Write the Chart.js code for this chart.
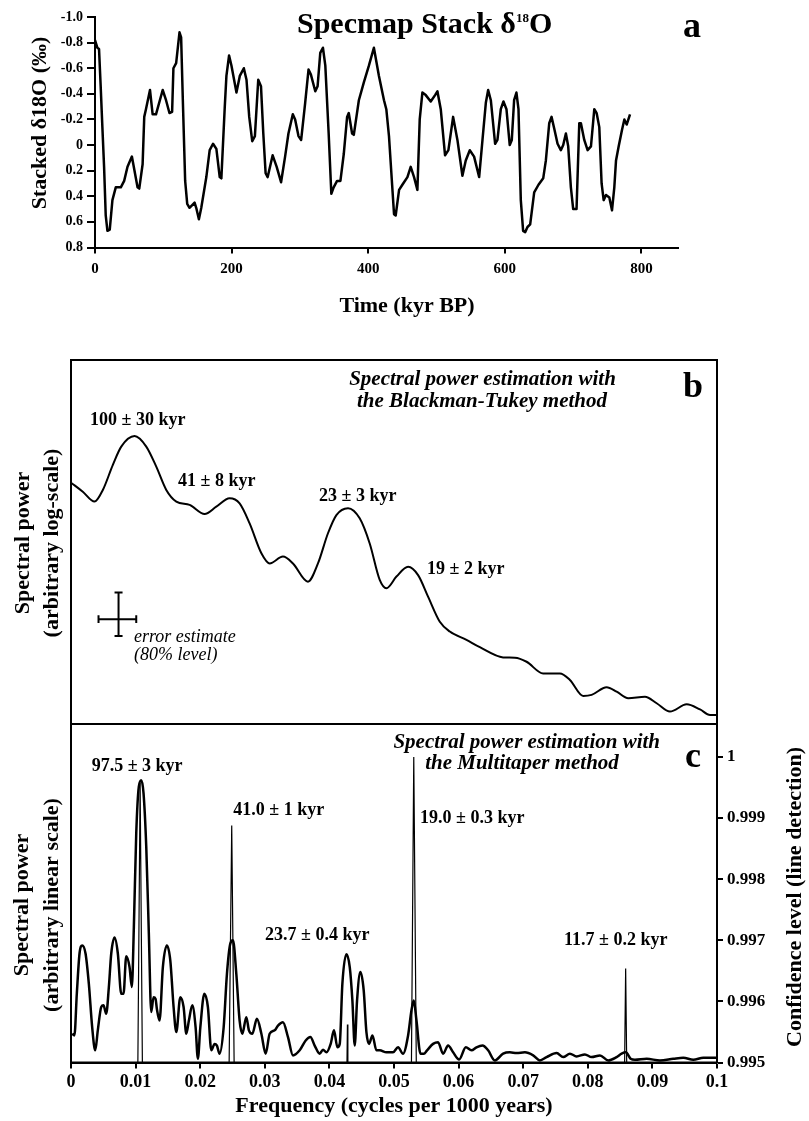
<!DOCTYPE html>
<html>
<head>
<meta charset="utf-8">
<script src="https://cdn.jsdelivr.net/npm/chart.js@4.4.1/dist/chart.umd.min.js"></script>
<style>
  html, body { margin: 0; padding: 0; background: #fff; }
  #wrap { position: relative; width: 809px; height: 1121px; background: #fff; overflow: hidden; }
  canvas { position: absolute; left: 0; top: 0; }
</style>
</head>
<body>
<div id="wrap">
  <canvas id="ca" width="809" height="1121"></canvas>
  <canvas id="cb" width="809" height="1121"></canvas>
  <canvas id="cc" width="809" height="1121"></canvas>
</div>
<script>
// ---------------- DATA ----------------
// Panel a: SPECMAP stacked d18O
const timeKyr = [0, 3.4, 5.9, 8.3, 10.8, 13.3, 15.7, 18.2, 21.6, 25.5,
  30.4, 37.8, 42.7, 47.6, 54.0, 62.3, 64.8, 69.7, 72.1, 74.6,
  80.5, 84.4, 89.3, 99.1, 104, 109, 112.9, 114.8, 118.8, 123.7,
  126.1, 128.6, 132, 135, 138.4, 145.8, 148.2, 152.1, 155.6, 163,
  167.9, 172.8, 177.7, 182.6, 185, 190, 192.4, 196.3, 199.8, 207.1,
  212, 217.9, 221.8, 225.8, 230.2, 234.1, 239, 243, 246.4, 249.8,
  252.8, 260.1, 266, 272.4, 278.3, 283.2, 289.6, 293, 297.9, 301.8,
  307.7, 312.6, 316.1, 322.5, 325.9, 329.8, 333.7, 337.2, 342.1, 346,
  349.4, 354.4, 359.3, 364.2, 369.1, 371.5, 376.4, 378.9, 386.3, 393.6,
  401, 408.3, 415.7, 423.1, 426.5, 430.4, 433.9, 437.8, 440.2, 445.2,
  450, 457.4, 462.2, 467.1, 472, 475.4, 479.3, 484.2, 491.5, 497.9,
  501.3, 506.2, 512.5, 517.4, 524.3, 530.6, 537.9, 542.8, 548.7, 555,
  562.4, 567.3, 572.2, 575.6, 579.5, 585.8, 589.2, 594.1, 598, 602.4,
  607.2, 610.2, 613.6, 617, 620, 623.4, 626.8, 629.8, 633.2, 637.1,
  643, 649.3, 656.2, 660.1, 665, 668.4, 672.3, 677.2, 682, 685.5,
  689.4, 692.8, 696.7, 700.1, 705, 709, 711.4, 716.3, 721.2, 726.1,
  731, 734.4, 738.3, 741.7, 744.7, 748.1, 753, 756.9, 760.3, 762.8,
  766.7, 771.6, 775, 778.4, 783.3];
const d18O = [-0.82, -0.76, -0.75, -0.46, -0.14, 0.17, 0.55, 0.67, 0.66, 0.43,
  0.33, 0.33, 0.28, 0.17, 0.09, 0.33, 0.34, 0.15, -0.22, -0.28,
  -0.43, -0.24, -0.24, -0.43, -0.35, -0.25, -0.26, -0.60, -0.64, -0.88,
  -0.84, -0.35, 0.28, 0.46, 0.49, 0.45, 0.49, 0.58, 0.49, 0.25,
  0.04, -0.01, 0.03, 0.25, 0.26, -0.30, -0.54, -0.70, -0.62, -0.41,
  -0.54, -0.60, -0.51, -0.22, -0.03, -0.07, -0.51, -0.46, -0.09, 0.22,
  0.25, 0.08, 0.17, 0.29, 0.09, -0.09, -0.24, -0.20, -0.07, -0.04,
  -0.33, -0.59, -0.55, -0.42, -0.46, -0.72, -0.76, -0.62, -0.09, 0.38,
  0.33, 0.28, 0.28, 0.07, -0.22, -0.25, -0.09, -0.08, -0.35, -0.49,
  -0.62, -0.76, -0.54, -0.35, -0.28, -0.07, 0.22, 0.54, 0.55, 0.35,
  0.31, 0.25, 0.17, 0.25, 0.35, -0.20, -0.41, -0.39, -0.34, -0.39,
  -0.42, -0.28, 0.08, 0.04, -0.22, -0.04, 0.24, 0.12, 0.04, 0.09,
  0.25, -0.04, -0.33, -0.43, -0.35, -0.01, -0.04, -0.28, -0.34, -0.28,
  0.00, -0.04, -0.35, -0.41, -0.28, 0.43, 0.67, 0.68, 0.64, 0.62,
  0.37, 0.31, 0.26, 0.12, -0.17, -0.22, -0.13, -0.01, 0.04, 0.00,
  -0.09, 0.01, 0.33, 0.50, 0.50, -0.17, -0.17, -0.04, 0.04, 0.01,
  -0.28, -0.25, -0.14, 0.30, 0.43, 0.39, 0.41, 0.51, 0.33, 0.12,
  0.01, -0.12, -0.20, -0.16, -0.24];
const aXTicks = [0, 200, 400, 600, 800];
const aXTickLabels = ["0", "200", "400", "600", "800"];
const aYTicks = [-1.0, -0.8, -0.6, -0.4, -0.2, 0, 0.2, 0.4, 0.6, 0.8];
const aYTickLabels = ["-1.0", "-0.8", "-0.6", "-0.4", "-0.2", "0", "0.2", "0.4", "0.6", "0.8"];

// Panel b: Blackman-Tukey spectrum (arbitrary log units)
const btFreq = [0, 0.00183, 0.00364, 0.00493, 0.00648, 0.00778, 0.00984, 0.01165, 0.0132, 0.01475,
  0.0163, 0.01836, 0.02068, 0.02249, 0.02455, 0.0261, 0.02765, 0.02947, 0.03075, 0.03281,
  0.03436, 0.03668, 0.03823, 0.03978, 0.04108, 0.04288, 0.04469, 0.04624, 0.04779, 0.04883,
  0.05038, 0.05218, 0.05373, 0.05527, 0.05709, 0.05864, 0.06122, 0.06329, 0.06689, 0.06871,
  0.07052, 0.07309, 0.07568, 0.07723, 0.07929, 0.08059, 0.08291, 0.08446, 0.08626, 0.08885,
  0.09066, 0.09272, 0.09531, 0.09737, 0.09892, 0.1];
const btPower = [66.3, 63.8, 61.1, 64.3, 71.2, 76.2, 79.1, 76.2, 70.7, 64.3,
  61.1, 60.2, 57.7, 59.7, 62.0, 60.6, 55.1, 46.9, 44.1, 46.0,
  44.1, 39.1, 44.1, 52.4, 57.4, 59.3, 56.5, 49.6, 39.6, 37.3,
  40.5, 43.2, 40.9, 35.0, 28.1, 25.4, 23.1, 21.1, 18.3, 18.2,
  17.1, 13.9, 13.9, 12.1, 7.7, 8.0, 10.1, 8.9, 7.1, 7.5,
  5.7, 3.4, 5.4, 4.0, 2.5, 2.5];
// error estimate cross (80% level), null = pen up
const errFreq  = [0.00736, 0.00736, null, 0.00674, 0.00798, null, 0.00674, 0.00798, null,
  0.00426, 0.0101, null, 0.00426, 0.00426, null, 0.0101, 0.0101];
const errPower = [36.1, 24.2, null, 36.1, 36.1, null, 24.2, 24.2, null,
  28.8, 28.8, null, 29.85, 27.75, null, 29.85, 27.75];

// Panel c: Multitaper spectrum (arbitrary linear units) and F-test confidence
const mtmFreq = [0.00019, 0.00053, 0.0009, 0.00132, 0.00174, 0.00225, 0.00276, 0.00328, 0.00375, 0.00415,
  0.00468, 0.00503, 0.00545, 0.00586, 0.00623, 0.00674, 0.00725, 0.00778, 0.00813, 0.00855,
  0.00906, 0.00942, 0.00973, 0.0101, 0.0105, 0.01088, 0.01123, 0.01165, 0.01205, 0.01242,
  0.01278, 0.01309, 0.01329, 0.01371, 0.01422, 0.01484, 0.01537, 0.01588, 0.0163, 0.01692,
  0.01743, 0.01785, 0.01825, 0.01878, 0.01929, 0.01964, 0.02002, 0.02064, 0.02119, 0.02172,
  0.02223, 0.02259, 0.023, 0.02363, 0.02414, 0.02466, 0.02507, 0.02559, 0.0261, 0.02652,
  0.02714, 0.02754, 0.02807, 0.02878, 0.02947, 0.03013, 0.03075, 0.03153, 0.03204, 0.03281,
  0.03359, 0.03436, 0.0354, 0.03633, 0.03706, 0.03772, 0.0385, 0.03901, 0.03954, 0.0402,
  0.04071, 0.04124, 0.0416, 0.04201, 0.04263, 0.04315, 0.04356, 0.04392, 0.04428, 0.0448,
  0.04531, 0.04573, 0.04614, 0.04666, 0.04728, 0.04779, 0.04883, 0.04985, 0.05063, 0.0514,
  0.05218, 0.0527, 0.05306, 0.05348, 0.0541, 0.05461, 0.05512, 0.05605, 0.05682, 0.0576,
  0.05837, 0.05915, 0.06008, 0.06112, 0.062, 0.06277, 0.0637, 0.06457, 0.06561, 0.06689,
  0.06793, 0.06897, 0.07026, 0.07154, 0.07258, 0.07362, 0.07517, 0.07619, 0.07723, 0.07826,
  0.07955, 0.08059, 0.08188, 0.08316, 0.08446, 0.08523, 0.0859, 0.08663, 0.0873, 0.08911,
  0.09117, 0.09323, 0.09478, 0.09633, 0.09788, 0.1];
const mtmPower = [8.5, 8.0, 20.3, 32.2, 34.6, 32.2, 23.3, 10.4, 3.6, 9.5,
  16.4, 16.9, 14.4, 22.3, 32.2, 36.9, 32.2, 20.3, 20.3, 31.4,
  28.2, 22.3, 40.0, 67.7, 81.5, 83.4, 79.5, 63.7, 38.1, 14.9,
  19.3, 18.8, 15.9, 12.4, 28.2, 34.6, 30.2, 16.4, 9.0, 19.3,
  16.4, 8.5, 12.4, 16.9, 10.4, 1.1, 10.4, 20.3, 16.4, 3.6,
  5.5, 5.0, 2.6, 10.4, 26.2, 35.1, 36.1, 26.2, 12.4, 8.5,
  13.4, 9.5, 8.5, 12.9, 8.5, 2.6, 8.5, 9.5, 10.9, 11.9,
  7.5, 2.1, 3.6, 6.5, 7.5, 5.0, 2.6, 3.8, 3.0, 5.5,
  9.5, 4.5, 5.5, 23.3, 32.0, 28.2, 18.3, 5.0, 18.3, 26.7,
  21.3, 9.0, 5.5, 8.0, 3.6, 3.6, 3.0, 3.0, 4.5, 2.6,
  8.0, 15.4, 18.3, 12.4, 2.6, 2.6, 3.6, 5.5, 6.0, 2.6,
  5.0, 3.0, 0.9, 4.5, 3.6, 4.5, 5.0, 3.6, 0.6, 2.6,
  3.0, 2.8, 3.0, 2.1, 0.6, 1.6, 2.8, 1.6, 2.6, 1.8,
  2.4, 1.6, 2.1, 0.6, 1.6, 2.6, 3.0, 1.1, 0.8, 1.1,
  0.6, 1.1, 1.4, 0.8, 1.4, 1.4];
const confFreq  = [0.01035, 0.0107, 0.01105, null, 0.02448, 0.02488, 0.02525, null,
  0.04272, 0.04279, 0.04286, null, 0.0527, 0.05306, 0.05345, null, 0.0857, 0.08586, 0.08602];
const confLevel = [0.995, 0.99958, 0.995, null, 0.995, 0.99888, 0.995, null,
  0.995, 0.99562, 0.995, null, 0.995, 1.0, 0.995, null, 0.995, 0.99654, 0.995];
const cXTicks = [0, 0.01, 0.02, 0.03, 0.04, 0.05, 0.06, 0.07, 0.08, 0.09, 0.1];
const cXTickLabels = ["0", "0.01", "0.02", "0.03", "0.04", "0.05", "0.06", "0.07", "0.08", "0.09", "0.1"];
const cYTicks = [0.995, 0.996, 0.997, 0.998, 0.999, 1.0];
const cYTickLabels = ["0.995", "0.996", "0.997", "0.998", "0.999", "1"];

// ---------------- HELPERS ----------------
const SERIF = '"Liberation Serif", "Times New Roman", "DejaVu Serif", serif';
function toPoints(xs, ys) {
  const out = [];
  let lastX = xs[0];
  for (let i = 0; i < ys.length; i++) {
    const x = (xs[i] === null) ? lastX : xs[i];
    lastX = x;
    out.push({ x: x, y: ys[i] });
  }
  return out;
}
const fixW = w => s => { s.width = w; };
const fixH = h => s => { s.height = h; };
const setTicks = vals => s => { s.ticks = vals.map(v => ({ value: v })); };
const axisGrid = len => ({ display: true, drawOnChartArea: false, drawTicks: true, tickLength: len, tickWidth: 2, tickColor: '#000', lineWidth: 0 });
const axisBorder = { display: true, color: '#000', width: 2 };

const textPlugin = {
  id: 'texts',
  afterDraw(chart, args, opts) {
    const ctx = chart.ctx;
    (opts.items || []).forEach(it => {
      ctx.save();
      ctx.fillStyle = '#000';
      ctx.translate(it.x, it.y);
      if (it.rotate) ctx.rotate(it.rotate);
      if (it.parts) {
        ctx.textAlign = 'left';
        ctx.textBaseline = 'alphabetic';
        let cx = 0;
        it.parts.forEach(p => {
          ctx.font = p.font;
          ctx.fillText(p.text, cx, p.dy || 0);
          cx += ctx.measureText(p.text).width;
        });
      } else {
        ctx.font = it.font;
        ctx.textAlign = it.align || 'left';
        ctx.textBaseline = it.baseline || 'middle';
        ctx.fillText(it.text, 0, 0);
      }
      ctx.restore();
    });
  }
};
const framePlugin = {
  id: 'frame',
  afterDatasetsDraw(chart, args, opts) {
    if (!opts.on) return;
    const ctx = chart.ctx, a = chart.chartArea;
    ctx.save();
    ctx.strokeStyle = '#000';
    ctx.lineWidth = 2;
    ctx.strokeRect(a.left, a.top, a.right - a.left, a.bottom - a.top);
    ctx.restore();
  }
};

const F_AXT = 'bold 22px ' + SERIF;
const F_PEAK = 'bold 18px ' + SERIF;
const F_METH = 'italic bold 21px ' + SERIF;
const F_LET = 'bold 36px ' + SERIF;
const baseOpts = {
  responsive: false, animation: false, events: [],
  plugins: { legend: { display: false }, tooltip: { enabled: false } }
};

// ---------------- PANEL A ----------------
new Chart(document.getElementById('ca'), {
  type: 'line',
  data: { datasets: [{ data: toPoints(timeKyr, d18O), borderColor: '#000', borderWidth: 2.5,
    pointRadius: 0, tension: 0, fill: false, borderJoinStyle: 'round' }] },
  options: Object.assign({}, baseOpts, {
    layout: { padding: { left: 0, top: 17, right: 130, bottom: 1121 - 247.5 - 40 } },
    plugins: Object.assign({}, baseOpts.plugins, {
      texts: { items: [
        { x: 297, y: 33, parts: [
          { text: 'Specmap Stack δ', font: 'bold 30px ' + SERIF },
          { text: '18', font: 'bold 13px ' + SERIF, dy: -11 },
          { text: 'O', font: 'bold 30px ' + SERIF } ] },
        { x: 683, y: 36.5, text: 'a', font: F_LET, baseline: 'alphabetic' },
        { x: 40, y: 123, text: 'Stacked δ18O (‰)', font: F_AXT, align: 'center', rotate: -Math.PI / 2 },
        { x: 407, y: 306, text: 'Time (kyr BP)', font: F_AXT, align: 'center' }
      ] }
    }),
    scales: {
      x: { type: 'linear', min: 0, max: 855, position: 'bottom',
        afterFit: fixH(40), afterBuildTicks: setTicks(aXTicks),
        ticks: { callback: (v, i) => aXTickLabels[i], font: { family: SERIF, weight: 'bold', size: 15 },
          color: '#000', padding: 7, maxRotation: 0, autoSkip: false },
        grid: axisGrid(6), border: axisBorder },
      y: { type: 'linear', min: -1.0, max: 0.8, reverse: true, position: 'left',
        afterFit: fixW(95), afterBuildTicks: setTicks(aYTicks),
        ticks: { callback: (v, i) => aYTickLabels[i], font: { family: SERIF, weight: 'bold', size: 14 },
          color: '#000', padding: 4, autoSkip: false },
        grid: axisGrid(8), border: axisBorder }
    }
  }),
  plugins: [textPlugin]
});

// ---------------- PANEL B ----------------
new Chart(document.getElementById('cb'), {
  type: 'line',
  data: { datasets: [
    { data: toPoints(btFreq, btPower), borderColor: '#000', borderWidth: 2, pointRadius: 0,
      cubicInterpolationMode: 'monotone', fill: false },
    { data: toPoints(errFreq, errPower), borderColor: '#000', borderWidth: 2, pointRadius: 0,
      tension: 0, spanGaps: false, fill: false }
  ] },
  options: Object.assign({}, baseOpts, {
    layout: { padding: { left: 71, top: 360, right: 809 - 717, bottom: 1121 - 724 } },
    plugins: Object.assign({}, baseOpts.plugins, {
      frame: { on: true },
      texts: { items: [
        { x: 482.5, y: 380, text: 'Spectral power estimation with', font: F_METH, align: 'center' },
        { x: 482, y: 402, text: 'the Blackman-Tukey method', font: F_METH, align: 'center' },
        { x: 683, y: 396.5, text: 'b', font: F_LET, baseline: 'alphabetic' },
        { x: 90, y: 420, text: '100 ± 30 kyr', font: F_PEAK },
        { x: 178, y: 481, text: '41 ± 8 kyr', font: F_PEAK },
        { x: 319, y: 496.5, text: '23 ± 3 kyr', font: F_PEAK },
        { x: 427, y: 569, text: '19 ± 2 kyr', font: F_PEAK },
        { x: 134, y: 637, text: 'error estimate', font: 'italic 18px ' + SERIF },
        { x: 134, y: 655, text: '(80% level)', font: 'italic 18px ' + SERIF },
        { x: 23, y: 543, text: 'Spectral power', font: F_AXT, align: 'center', rotate: -Math.PI / 2 },
        { x: 52, y: 543, text: '(arbitrary log-scale)', font: F_AXT, align: 'center', rotate: -Math.PI / 2 }
      ] }
    }),
    scales: {
      x: { type: 'linear', min: 0, max: 0.1, display: false },
      y: { type: 'linear', min: 0, max: 100, display: false }
    }
  }),
  plugins: [framePlugin, textPlugin]
});

// ---------------- PANEL C ----------------
new Chart(document.getElementById('cc'), {
  type: 'line',
  data: { datasets: [
    { data: toPoints(mtmFreq, mtmPower), yAxisID: 'y', borderColor: '#000', borderWidth: 2.5, pointRadius: 0,
      cubicInterpolationMode: 'monotone', fill: false },
    { data: toPoints(confFreq, confLevel), yAxisID: 'y2', borderColor: '#000', borderWidth: 1.2, pointRadius: 0,
      tension: 0, spanGaps: false, fill: false }
  ] },
  options: Object.assign({}, baseOpts, {
    layout: { padding: { left: 71, top: 724, right: 809 - 717 - 50, bottom: 1121 - 1062.5 - 40 } },
    plugins: Object.assign({}, baseOpts.plugins, {
      frame: { on: true },
      texts: { items: [
        { x: 526.7, y: 743, text: 'Spectral power estimation with', font: F_METH, align: 'center' },
        { x: 522, y: 764, text: 'the Multitaper method', font: F_METH, align: 'center' },
        { x: 685, y: 767, text: 'c', font: F_LET, baseline: 'alphabetic' },
        { x: 91.7, y: 766, text: '97.5 ± 3 kyr', font: F_PEAK },
        { x: 233.3, y: 810, text: '41.0 ± 1 kyr', font: F_PEAK },
        { x: 265, y: 935, text: '23.7 ± 0.4 kyr', font: F_PEAK },
        { x: 420, y: 818.5, text: '19.0 ± 0.3 kyr', font: F_PEAK },
        { x: 564, y: 940.5, text: '11.7 ± 0.2 kyr', font: F_PEAK },
        { x: 22, y: 905, text: 'Spectral power', font: F_AXT, align: 'center', rotate: -Math.PI / 2 },
        { x: 52, y: 905, text: '(arbitrary linear scale)', font: F_AXT, align: 'center', rotate: -Math.PI / 2 },
        { x: 394, y: 1106, text: 'Frequency (cycles per 1000 years)', font: F_AXT, align: 'center' },
        { x: 795, y: 897, text: 'Confidence level (line detection)', font: F_AXT, align: 'center', rotate: -Math.PI / 2 }
      ] }
    }),
    scales: {
      x: { type: 'linear', min: 0, max: 0.1, position: 'bottom',
        afterFit: fixH(40), afterBuildTicks: setTicks(cXTicks),
        ticks: { callback: (v, i) => cXTickLabels[i], font: { family: SERIF, weight: 'bold', size: 18 },
          color: '#000', padding: 3, maxRotation: 0, autoSkip: false },
        grid: axisGrid(6), border: axisBorder },
      y: { type: 'linear', min: 0, max: 100, display: false, position: 'left' },
      y2: { type: 'linear', min: 0.995, max: 1.00054, position: 'right',
        afterFit: fixW(50), afterBuildTicks: setTicks(cYTicks),
        ticks: { callback: (v, i) => cYTickLabels[i], font: { family: SERIF, weight: 'bold', size: 17 },
          color: '#000', padding: 4, autoSkip: false },
        grid: axisGrid(6), border: axisBorder }
    }
  }),
  plugins: [framePlugin, textPlugin]
});
</script>
</body>
</html>
